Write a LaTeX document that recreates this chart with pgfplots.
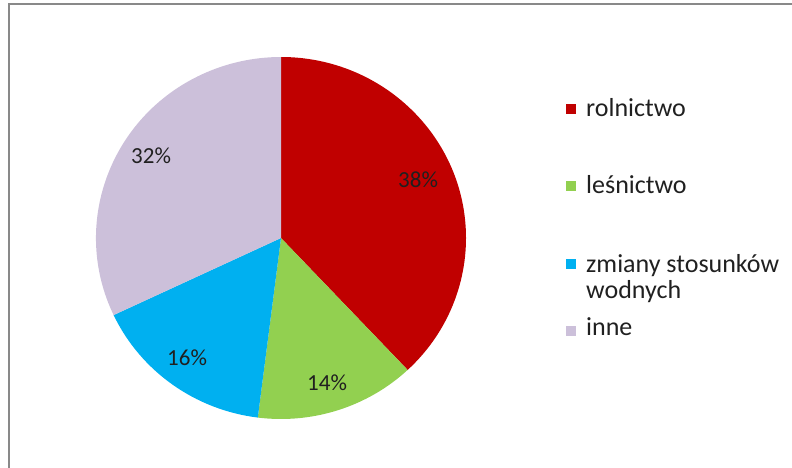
\documentclass[border=0pt]{standalone}
\usepackage{pgfplots}
\pgfplotsset{compat=1.18}
\usepackage{fontspec}
\setmainfont{Carlito}
\definecolor{cRol}{HTML}{C00000}
\definecolor{cLes}{HTML}{92D050}
\definecolor{cZm}{HTML}{00B0F0}
\definecolor{cIn}{HTML}{CCC0DA}
\definecolor{frm}{HTML}{898989}
\definecolor{txt}{HTML}{202020}
% data (percent)
\def\vRol{38}
\def\vLes{14}
\def\vZm{16}
\def\vIn{32}
\begin{document}
\begin{tikzpicture}
\begin{axis}[width=792pt,height=468pt,scale only axis,
  xmin=0,xmax=792,ymin=0,ymax=468,y dir=reverse,hide axis,clip=false]
% frame
\draw[frm,line width=2pt] (axis cs:8.5,470) -- (axis cs:8.5,4.5) -- (axis cs:794,4.5);
% pie: start at 12 o'clock, clockwise
\pgfmathsetmacro{\aA}{90}
\pgfmathsetmacro{\aB}{90-3.6*\vRol}
\pgfmathsetmacro{\aC}{\aB-3.6*\vLes}
\pgfmathsetmacro{\aD}{\aC-3.6*\vZm}
\pgfmathsetmacro{\aE}{\aD-3.6*\vIn}
\tikzset{pie/.style={x radius=185pt,y radius=181pt}}
\fill[cRol] (axis cs:281,238) -- ++({185pt*cos(\aA)},{181pt*sin(\aA)}) arc[start angle=\aA,end angle=\aB,pie] -- cycle;
\fill[cLes] (axis cs:281,238) -- ++({185pt*cos(\aB)},{181pt*sin(\aB)}) arc[start angle=\aB,end angle=\aC,pie] -- cycle;
\fill[cZm] (axis cs:281,238) -- ++({185pt*cos(\aC)},{181pt*sin(\aC)}) arc[start angle=\aC,end angle=\aD,pie] -- cycle;
\fill[cIn] (axis cs:281,238) -- ++({185pt*cos(\aD)},{181pt*sin(\aD)}) arc[start angle=\aD,end angle=\aE,pie] -- cycle;
% data labels
\begin{scope}[every node/.style={inner sep=0pt,anchor=base west,text=txt,font=\fontsize{23}{27}\selectfont}]
\node at (axis cs:398,187) {\vRol\%};
\node at (axis cs:307,390) {\vLes\%};
\node at (axis cs:167,365) {\vZm\%};
\node at (axis cs:131,163) {\vIn\%};
\end{scope}
% legend
\begin{scope}[every node/.style={inner sep=0pt,anchor=base west,text=txt,font=\fontsize{26}{30}\selectfont}]
\fill[cRol] (axis cs:566,104.5) rectangle (axis cs:576,114.5);
\node at (axis cs:586,117) {rolnictwo};
\fill[cLes] (axis cs:566,181) rectangle (axis cs:576,191);
\node at (axis cs:586,193) {leśnictwo};
\fill[cZm] (axis cs:566,259) rectangle (axis cs:576,269);
\node at (axis cs:586,272) {zmiany stosunków};
\node at (axis cs:586,298) {wodnych};
\fill[cIn] (axis cs:566,326) rectangle (axis cs:576,336);
\node at (axis cs:586,335) {inne};
\end{scope}
\end{axis}
\pgfresetboundingbox
\useasboundingbox (current axis.south west) rectangle (current axis.north east);
\end{tikzpicture}
\end{document}
